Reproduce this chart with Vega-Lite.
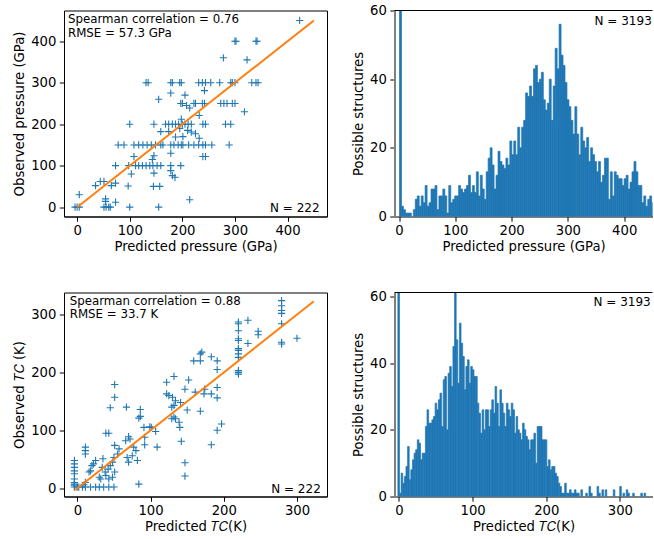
{
"$schema": "https://vega.github.io/schema/vega-lite/v6.json",
"padding": {"left": 12, "top": 3.5, "right": 0, "bottom": 0},
"config": {
  "font": "DejaVu Sans",
  "view": {"stroke": null},
  "axis": {"labelFont": "DejaVu Sans", "titleFont": "DejaVu Sans", "labelFontSize": 13.2, "titleFontSize": 13.2, "titleFontWeight": "normal", "labelColor": "#000", "titleColor": "#000", "tickColor": "#000", "domainColor": "#000", "tickSize": 4.7, "tickWidth": 1, "domainWidth": 1, "labelPadding": 3.5, "titlePadding": 4, "grid": false, "labelFlush": false, "labelOverlap": false}
},
"datasets": {
  "tl_pts": [
    {"pred":423,"obs":450},{"pred":300,"obs":400},{"pred":302,"obs":400},{"pred":340,"obs":400},{"pred":342,"obs":400},{"pred":278,"obs":360},{"pred":323,"obs":355},
    {"pred":131,"obs":300},{"pred":135,"obs":300},{"pred":178,"obs":300},{"pred":181,"obs":300},{"pred":195,"obs":300},{"pred":198,"obs":300},{"pred":231,"obs":300},{"pred":238,"obs":300},{"pred":244,"obs":300},{"pred":254,"obs":300},{"pred":271,"obs":300},{"pred":292,"obs":300},{"pred":295,"obs":300},{"pred":300,"obs":300},{"pred":332,"obs":300},{"pred":340,"obs":300},{"pred":344,"obs":300},
    {"pred":155,"obs":260},{"pred":178,"obs":275},{"pred":205,"obs":270},{"pred":242,"obs":281},
    {"pred":197,"obs":250},{"pred":200,"obs":250},{"pred":222,"obs":250},{"pred":225,"obs":250},{"pred":238,"obs":250},{"pred":242,"obs":250},{"pred":273,"obs":250},{"pred":279,"obs":250},{"pred":285,"obs":250},{"pred":295,"obs":250},{"pred":300,"obs":250},
    {"pred":214,"obs":239},{"pred":208,"obs":245},{"pred":232,"obs":221},{"pred":318,"obs":230},
    {"pred":100,"obs":200},{"pred":146,"obs":200},{"pred":168,"obs":200},{"pred":174,"obs":200},{"pred":181,"obs":200},{"pred":187,"obs":200},{"pred":193,"obs":200},{"pred":200,"obs":200},{"pred":205,"obs":200},{"pred":211,"obs":200},{"pred":217,"obs":200},{"pred":239,"obs":200},{"pred":244,"obs":200},{"pred":282,"obs":200},{"pred":292,"obs":200},
    {"pred":198,"obs":212},{"pred":217,"obs":181},{"pred":225,"obs":177},{"pred":210,"obs":185},{"pred":159,"obs":182},{"pred":174,"obs":182},{"pred":187,"obs":169},{"pred":201,"obs":170},{"pred":232,"obs":166},{"pred":195,"obs":190},
    {"pred":78,"obs":150},{"pred":89,"obs":150},{"pred":108,"obs":150},{"pred":117,"obs":150},{"pred":125,"obs":150},{"pred":133,"obs":150},{"pred":141,"obs":150},{"pred":149,"obs":150},{"pred":159,"obs":150},{"pred":163,"obs":150},{"pred":178,"obs":150},{"pred":184,"obs":150},{"pred":192,"obs":150},{"pred":198,"obs":150},{"pred":201,"obs":150},{"pred":212,"obs":150},{"pred":222,"obs":150},{"pred":231,"obs":150},{"pred":239,"obs":150},{"pred":244,"obs":150},{"pred":256,"obs":150},{"pred":289,"obs":150},
    {"pred":178,"obs":130},{"pred":239,"obs":122},{"pred":244,"obs":122},
    {"pred":73,"obs":100},{"pred":98,"obs":100},{"pred":111,"obs":100},{"pred":117,"obs":100},{"pred":124,"obs":100},{"pred":131,"obs":100},{"pred":138,"obs":100},{"pred":144,"obs":100},{"pred":152,"obs":100},{"pred":159,"obs":100},{"pred":178,"obs":100},{"pred":197,"obs":100},
    {"pred":108,"obs":122},{"pred":146,"obs":124},{"pred":143,"obs":115},{"pred":103,"obs":80},{"pred":146,"obs":82},{"pred":178,"obs":88},{"pred":181,"obs":76},{"pred":186,"obs":72},
    {"pred":44,"obs":62},{"pred":51,"obs":62},{"pred":35,"obs":52},{"pred":65,"obs":52},{"pred":73,"obs":58},{"pred":97,"obs":51},{"pred":145,"obs":50},{"pred":157,"obs":50},
    {"pred":4,"obs":30},{"pred":54,"obs":20},{"pred":54,"obs":14},{"pred":73,"obs":12},{"pred":214,"obs":18},
    {"pred":-4,"obs":0},{"pred":0,"obs":0},{"pred":4,"obs":0},{"pred":51,"obs":0},{"pred":55,"obs":0},{"pred":60,"obs":0},{"pred":63,"obs":0},{"pred":100,"obs":0},{"pred":155,"obs":0}
  ],
  "tl_line": [{"pred":0,"obs":0},{"pred":450,"obs":450}],
  "bl_pts": [
    {"pred":279,"obs":324},{"pred":279,"obs":315},{"pred":279,"obs":307},{"pred":279,"obs":302},{"pred":279,"obs":284},{"pred":279,"obs":252},{"pred":279,"obs":249},{"pred":300,"obs":259},
    {"pred":220,"obs":287},{"pred":220,"obs":284},{"pred":220,"obs":272},{"pred":220,"obs":258},{"pred":220,"obs":255},{"pred":220,"obs":241},{"pred":220,"obs":238},{"pred":220,"obs":232},{"pred":220,"obs":226},{"pred":220,"obs":203},{"pred":220,"obs":200},{"pred":220,"obs":197},{"pred":233,"obs":290},{"pred":247,"obs":271},{"pred":247,"obs":265},{"pred":233,"obs":250},
    {"pred":170,"obs":235},{"pred":168,"obs":232},{"pred":159,"obs":220},{"pred":168,"obs":220},{"pred":183,"obs":227},{"pred":191,"obs":220},{"pred":191,"obs":205},{"pred":191,"obs":174},{"pred":191,"obs":156},{"pred":174,"obs":171},{"pred":173,"obs":163},{"pred":183,"obs":163},{"pred":168,"obs":133},{"pred":197,"obs":111},{"pred":191,"obs":100},{"pred":183,"obs":75},
    {"pred":132,"obs":193},{"pred":122,"obs":183},{"pred":152,"obs":187},{"pred":147,"obs":171},{"pred":161,"obs":166},{"pred":122,"obs":163},{"pred":125,"obs":160},{"pred":130,"obs":157},{"pred":134,"obs":151},{"pred":132,"obs":143},{"pred":129,"obs":140},{"pred":141,"obs":148},{"pred":150,"obs":135},{"pred":132,"obs":123},{"pred":129,"obs":120},{"pred":134,"obs":120},{"pred":139,"obs":114},{"pred":140,"obs":105},{"pred":142,"obs":81},{"pred":147,"obs":44},{"pred":147,"obs":21},
    {"pred":51,"obs":179},{"pred":51,"obs":157},{"pred":45,"obs":139},{"pred":67,"obs":140},{"pred":86,"obs":136},{"pred":86,"obs":124},{"pred":84,"obs":121},{"pred":91,"obs":105},{"pred":99,"obs":106},{"pred":101,"obs":105},{"pred":107,"obs":98},{"pred":92,"obs":88},{"pred":92,"obs":75},{"pred":109,"obs":71},{"pred":84,"obs":7},
    {"pred":39,"obs":95},{"pred":43,"obs":95},{"pred":51,"obs":74},{"pred":70,"obs":89},{"pred":72,"obs":85},{"pred":66,"obs":82},{"pred":77,"obs":71},{"pred":80,"obs":65},{"pred":75,"obs":56},{"pred":68,"obs":53},{"pred":82,"obs":48},{"pred":70,"obs":45},{"pred":57,"obs":68},{"pred":55,"obs":59},{"pred":50,"obs":53},{"pred":48,"obs":45},{"pred":45,"obs":39},{"pred":42,"obs":33},{"pred":51,"obs":28},
    {"pred":11,"obs":71},{"pred":11,"obs":65},{"pred":11,"obs":59},{"pred":22,"obs":42},{"pred":25,"obs":48},{"pred":20,"obs":39},{"pred":16,"obs":28},{"pred":18,"obs":30},{"pred":30,"obs":19},{"pred":32,"obs":16},{"pred":35,"obs":51},{"pred":34,"obs":36},{"pred":38,"obs":28},{"pred":39,"obs":22},{"pred":43,"obs":16},{"pred":48,"obs":19},
    {"pred":-4,"obs":48},{"pred":-4,"obs":42},{"pred":-4,"obs":36},{"pred":-4,"obs":30},{"pred":-4,"obs":25},{"pred":-4,"obs":16},{"pred":-4,"obs":10},{"pred":-4,"obs":7},{"pred":-4,"obs":5},{"pred":-4,"obs":2},
    {"pred":0,"obs":2},{"pred":2,"obs":2},{"pred":7,"obs":2},{"pred":11,"obs":2},{"pred":18,"obs":2},{"pred":25,"obs":2},{"pred":30,"obs":2},{"pred":36,"obs":2},{"pred":43,"obs":2},{"pred":50,"obs":2},{"pred":11,"obs":10},{"pred":9,"obs":6}
  ],
  "bl_line": [{"pred":-3,"obs":-3},{"pred":323,"obs":323}],
  "tr_hist": [
    {"p":1.75,"n":120},{"p":5.25,"n":3},{"p":8.75,"n":2},{"p":12.25,"n":1},{"p":15.75,"n":1},{"p":19.25,"n":1},{"p":26.25,"n":2},{"p":29.75,"n":5},{"p":33.25,"n":6},{"p":36.75,"n":3},
    {"p":40.25,"n":6},{"p":43.75,"n":4},{"p":47.25,"n":9},{"p":50.75,"n":3},{"p":54.25,"n":4},{"p":57.75,"n":8},{"p":61.25,"n":8},{"p":64.75,"n":9},{"p":68.25,"n":2},{"p":71.75,"n":6},
    {"p":75.25,"n":6},{"p":78.75,"n":8},{"p":82.25,"n":6},{"p":85.75,"n":1},{"p":89.25,"n":9},{"p":92.75,"n":4},{"p":96.25,"n":5},{"p":99.75,"n":6},{"p":103.25,"n":6},{"p":106.75,"n":9},
    {"p":110.25,"n":8},{"p":113.75,"n":7},{"p":117.25,"n":8},{"p":120.75,"n":9},{"p":124.25,"n":12},{"p":127.75,"n":7},{"p":131.25,"n":9},{"p":134.75,"n":7},{"p":138.25,"n":13},{"p":141.75,"n":6},
    {"p":145.25,"n":12},{"p":148.75,"n":8},{"p":152.25,"n":5},{"p":155.75,"n":13},{"p":159.25,"n":17},{"p":162.75,"n":20},{"p":166.25,"n":15},{"p":169.75,"n":8},{"p":173.25,"n":12},{"p":176.75,"n":19},
    {"p":180.25,"n":16},{"p":183.75,"n":15},{"p":187.25,"n":14},{"p":190.75,"n":17},{"p":194.25,"n":15},{"p":197.75,"n":22},{"p":201.25,"n":18},{"p":204.75,"n":22},{"p":208.25,"n":18},{"p":211.75,"n":26},
    {"p":215.25,"n":20},{"p":218.75,"n":26},{"p":222.25,"n":28},{"p":225.75,"n":36},{"p":229.25,"n":35},{"p":232.75,"n":38},{"p":236.25,"n":35},{"p":239.75,"n":43},{"p":243.25,"n":44},{"p":246.75,"n":39},
    {"p":250.25,"n":40},{"p":253.75,"n":42},{"p":257.25,"n":34},{"p":260.75,"n":31},{"p":264.25,"n":33},{"p":267.75,"n":40},{"p":271.25,"n":28},{"p":274.75,"n":38},{"p":278.25,"n":49},{"p":281.75,"n":43},
    {"p":285.25,"n":56},{"p":288.75,"n":47},{"p":292.25,"n":44},{"p":295.75,"n":39},{"p":299.25,"n":34},{"p":302.75,"n":32},{"p":306.25,"n":28},{"p":309.75,"n":24},{"p":313.25,"n":32},{"p":316.75,"n":24},
    {"p":320.25,"n":18},{"p":323.75,"n":26},{"p":327.25,"n":22},{"p":330.75,"n":20},{"p":334.25,"n":23},{"p":337.75,"n":16},{"p":341.25,"n":20},{"p":344.75,"n":18},{"p":348.25,"n":16},{"p":351.75,"n":13},
    {"p":355.25,"n":16},{"p":358.75,"n":10},{"p":362.25,"n":12},{"p":365.75,"n":17},{"p":369.25,"n":17},{"p":372.75,"n":5},{"p":376.25,"n":13},{"p":379.75,"n":6},{"p":383.25,"n":13},{"p":386.75,"n":12},
    {"p":390.25,"n":11},{"p":393.75,"n":11},{"p":397.25,"n":9},{"p":400.75,"n":11},{"p":404.25,"n":12},{"p":407.75,"n":8},{"p":411.25,"n":10},{"p":414.75,"n":13},{"p":418.25,"n":16},{"p":421.75,"n":13},
    {"p":425.25,"n":9},{"p":428.75,"n":9},{"p":432.25,"n":4},{"p":435.75,"n":6},{"p":439.25,"n":3},{"p":442.75,"n":5},{"p":446.25,"n":6},{"p":449.75,"n":4}
  ],
  "br_hist": [
    {"p":-1.1,"n":120},{"p":1.1,"n":1},{"p":3.3,"n":7},{"p":5.5,"n":4},{"p":7.7,"n":6},{"p":9.9,"n":9},{"p":12.1,"n":15},{"p":14.3,"n":5},{"p":16.5,"n":8},{"p":18.7,"n":11},
    {"p":20.9,"n":13},{"p":23.1,"n":14},{"p":25.3,"n":17},{"p":27.5,"n":16},{"p":29.7,"n":11},{"p":31.9,"n":13},{"p":34.1,"n":13},{"p":36.3,"n":21},{"p":38.5,"n":26},{"p":40.7,"n":22},
    {"p":42.9,"n":22},{"p":45.1,"n":23},{"p":47.3,"n":24},{"p":49.5,"n":28},{"p":51.7,"n":26},{"p":53.9,"n":29},{"p":56.1,"n":31},{"p":58.3,"n":21},{"p":60.5,"n":35},{"p":62.7,"n":36},
    {"p":64.9,"n":20},{"p":67.1,"n":37},{"p":69.3,"n":39},{"p":71.5,"n":33},{"p":73.7,"n":45},{"p":75.9,"n":65},{"p":78.1,"n":47},{"p":80.3,"n":34},{"p":82.5,"n":52},{"p":84.7,"n":46},
    {"p":86.9,"n":42},{"p":89.1,"n":32},{"p":91.3,"n":39},{"p":93.5,"n":41},{"p":95.7,"n":34},{"p":97.9,"n":39},{"p":100.1,"n":38},{"p":102.3,"n":36},{"p":104.5,"n":36},{"p":106.7,"n":28},
    {"p":108.9,"n":25},{"p":111.1,"n":19},{"p":113.3,"n":26},{"p":115.5,"n":20},{"p":117.7,"n":26},{"p":119.9,"n":26},{"p":122.1,"n":21},{"p":124.3,"n":26},{"p":126.5,"n":29},{"p":128.7,"n":25},
    {"p":130.9,"n":33},{"p":133.1,"n":28},{"p":135.3,"n":21},{"p":137.5,"n":32},{"p":139.7,"n":28},{"p":141.9,"n":25},{"p":144.1,"n":21},{"p":146.3,"n":28},{"p":148.5,"n":26},{"p":150.7,"n":24},
    {"p":152.9,"n":28},{"p":155.1,"n":26},{"p":157.3,"n":19},{"p":159.5,"n":24},{"p":161.7,"n":20},{"p":163.9,"n":19},{"p":166.1,"n":17},{"p":168.3,"n":22},{"p":170.5,"n":20},{"p":172.7,"n":18},
    {"p":174.9,"n":17},{"p":177.1,"n":14},{"p":179.3,"n":17},{"p":181.5,"n":17},{"p":183.7,"n":19},{"p":185.9,"n":10},{"p":188.1,"n":21},{"p":190.3,"n":21},{"p":192.5,"n":21},{"p":194.7,"n":17},
    {"p":196.9,"n":17},{"p":199.1,"n":17},{"p":201.3,"n":9},{"p":203.5,"n":11},{"p":205.7,"n":8},{"p":207.9,"n":9},{"p":210.1,"n":9},{"p":212.3,"n":7},{"p":214.5,"n":6},{"p":216.7,"n":4},
    {"p":218.9,"n":3},{"p":221.1,"n":1},{"p":223.3,"n":1},{"p":225.5,"n":4},{"p":227.7,"n":1},{"p":229.9,"n":1},{"p":232.1,"n":2},{"p":234.3,"n":1},{"p":236.5,"n":1},{"p":238.7,"n":2},
    {"p":240.9,"n":1},{"p":243.1,"n":1},{"p":247.5,"n":2},{"p":254.1,"n":1},{"p":258.5,"n":3},{"p":260.7,"n":1},{"p":269.5,"n":3},{"p":271.7,"n":1},{"p":276.1,"n":2},{"p":280.5,"n":2},
    {"p":291.5,"n":2},{"p":300.3,"n":3},{"p":304.7,"n":1},{"p":309.1,"n":2},{"p":311.3,"n":1},{"p":317.9,"n":1},{"p":328.9,"n":1},{"p":333.3,"n":1}
  ]
},
"columns": 2,
"bounds": "flush",
"spacing": {"row": 76, "column": 67.5},
"concat": [
  {
    "width": 263, "height": 206,
    "view": {"stroke": "#000", "strokeWidth": 1},
    "layer": [
      {"data": {"name": "tl_pts"},
       "mark": {"type": "point", "shape": "M-1,0L1,0M0,-1L0,1", "size": 52, "filled": false, "color": "#1f77b4", "strokeWidth": 1.1, "opacity": 1},
       "encoding": {
         "x": {"field": "pred", "type": "quantitative", "scale": {"domain": [-25, 475], "nice": false, "zero": false}, "axis": {"values": [0,100,200,300,400], "title": "Predicted pressure (GPa)"}},
         "y": {"field": "obs", "type": "quantitative", "scale": {"domain": [-22.5, 474], "nice": false, "zero": false}, "axis": {"values": [0,100,200,300,400], "title": "Observed pressure (GPa)"}}
       }},
      {"data": {"name": "tl_line"},
       "mark": {"type": "line", "color": "#ff7f0e", "strokeWidth": 2},
       "encoding": {"x": {"field": "pred", "type": "quantitative"}, "y": {"field": "obs", "type": "quantitative"}}},
      {"data": {"values": [{"t": "Spearman correlation = 0.76\nRMSE = 57.3 GPa"}]},
       "mark": {"type": "text", "lineBreak": "\n", "align": "left", "baseline": "alphabetic", "fontSize": 11.8, "lineHeight": 13.5, "color": "#000", "font": "DejaVu Sans"},
       "encoding": {"x": {"datum": -17.5}, "y": {"datum": 443}, "text": {"field": "t"}}},
      {"data": {"values": [{"t": "N = 222"}]},
       "mark": {"type": "text", "align": "right", "baseline": "alphabetic", "fontSize": 12, "color": "#000", "font": "DejaVu Sans"},
       "encoding": {"x": {"datum": 461}, "y": {"datum": -12}, "text": {"field": "t"}}}
    ]
  },
  {
    "width": 258, "height": 206,
    "layer": [
      {"data": {"name": "tr_hist"},
       "mark": {"type": "bar", "binSpacing": 0, "clip": true, "color": "#1f77b4", "stroke": "#1f77b4", "strokeWidth": 0.7},
       "encoding": {
         "x": {"field": "p", "type": "quantitative", "bin": {"step": 3.5, "extent": [0, 451.5], "nice": false}, "scale": {"domain": [-8, 450.3], "nice": false, "zero": false}, "axis": {"values": [0,100,200,300,400], "title": "Predicted pressure (GPa)", "format": "d"}},
         "y": {"aggregate": "sum", "field": "n", "type": "quantitative", "scale": {"domain": [0, 60], "nice": false}, "axis": {"values": [0,20,40,60], "title": "Possible structures", "domainColor": "#808080", "domainWidth": 2}}
       }},
      {"data": {"values": [{}]},
       "mark": {"type": "rule", "color": "#000", "strokeWidth": 1},
       "encoding": {"y": {"datum": 60}}},
      {"data": {"values": [{"t": "N = 3193"}]},
       "mark": {"type": "text", "align": "right", "baseline": "alphabetic", "fontSize": 12, "color": "#000", "font": "DejaVu Sans"},
       "encoding": {"x": {"datum": 449}, "y": {"datum": 55.9}, "text": {"field": "t"}}}
    ]
  },
  {
    "width": 263, "height": 204,
    "view": {"stroke": "#000", "strokeWidth": 1},
    "layer": [
      {"data": {"name": "bl_pts"},
       "mark": {"type": "point", "shape": "M-1,0L1,0M0,-1L0,1", "size": 52, "filled": false, "color": "#1f77b4", "strokeWidth": 1.1, "opacity": 1},
       "encoding": {
         "x": {"field": "pred", "type": "quantitative", "scale": {"domain": [-18.2, 341], "nice": false, "zero": false}, "axis": {"values": [0,100,200,300], "title": "Predicted 𝑇𝐶(K)"}},
         "y": {"field": "obs", "type": "quantitative", "scale": {"domain": [-14.3, 338], "nice": false, "zero": false}, "axis": {"values": [0,100,200,300], "title": "Observed 𝑇𝐶 (K)"}}
       }},
      {"data": {"name": "bl_line"},
       "mark": {"type": "line", "color": "#ff7f0e", "strokeWidth": 2},
       "encoding": {"x": {"field": "pred", "type": "quantitative"}, "y": {"field": "obs", "type": "quantitative"}}},
      {"data": {"values": [{"t": "Spearman correlation = 0.88\nRMSE = 33.7 K"}]},
       "mark": {"type": "text", "lineBreak": "\n", "align": "left", "baseline": "alphabetic", "fontSize": 11.8, "lineHeight": 13.5, "color": "#000", "font": "DejaVu Sans"},
       "encoding": {"x": {"datum": -10.4}, "y": {"datum": 317}, "text": {"field": "t"}}},
      {"data": {"values": [{"t": "N = 222"}]},
       "mark": {"type": "text", "align": "right", "baseline": "alphabetic", "fontSize": 12, "color": "#000", "font": "DejaVu Sans"},
       "encoding": {"x": {"datum": 332.5}, "y": {"datum": -7.5}, "text": {"field": "t"}}}
    ]
  },
  {
    "width": 258, "height": 204,
    "layer": [
      {"data": {"name": "br_hist"},
       "mark": {"type": "bar", "binSpacing": 0, "clip": true, "color": "#1f77b4", "stroke": "#1f77b4", "strokeWidth": 0.7},
       "encoding": {
         "x": {"field": "p", "type": "quantitative", "bin": {"step": 2.2, "extent": [-2.2, 335.2], "nice": false}, "scale": {"domain": [-6.1, 344.4], "nice": false, "zero": false}, "axis": {"values": [0,100,200,300], "title": "Predicted 𝑇𝐶(K)", "format": "d"}},
         "y": {"aggregate": "sum", "field": "n", "type": "quantitative", "scale": {"domain": [0, 61.2], "nice": false}, "axis": {"values": [0,20,40,60], "title": "Possible structures", "domainColor": "#808080", "domainWidth": 2}}
       }},
      {"data": {"values": [{}]},
       "mark": {"type": "rule", "color": "#000", "strokeWidth": 1},
       "encoding": {"y": {"datum": 61.2}}},
      {"data": {"values": [{"t": "N = 3193"}]},
       "mark": {"type": "text", "align": "right", "baseline": "alphabetic", "fontSize": 12, "color": "#000", "font": "DejaVu Sans"},
       "encoding": {"x": {"datum": 342}, "y": {"datum": 57.3}, "text": {"field": "t"}}}
    ]
  }
]
}
